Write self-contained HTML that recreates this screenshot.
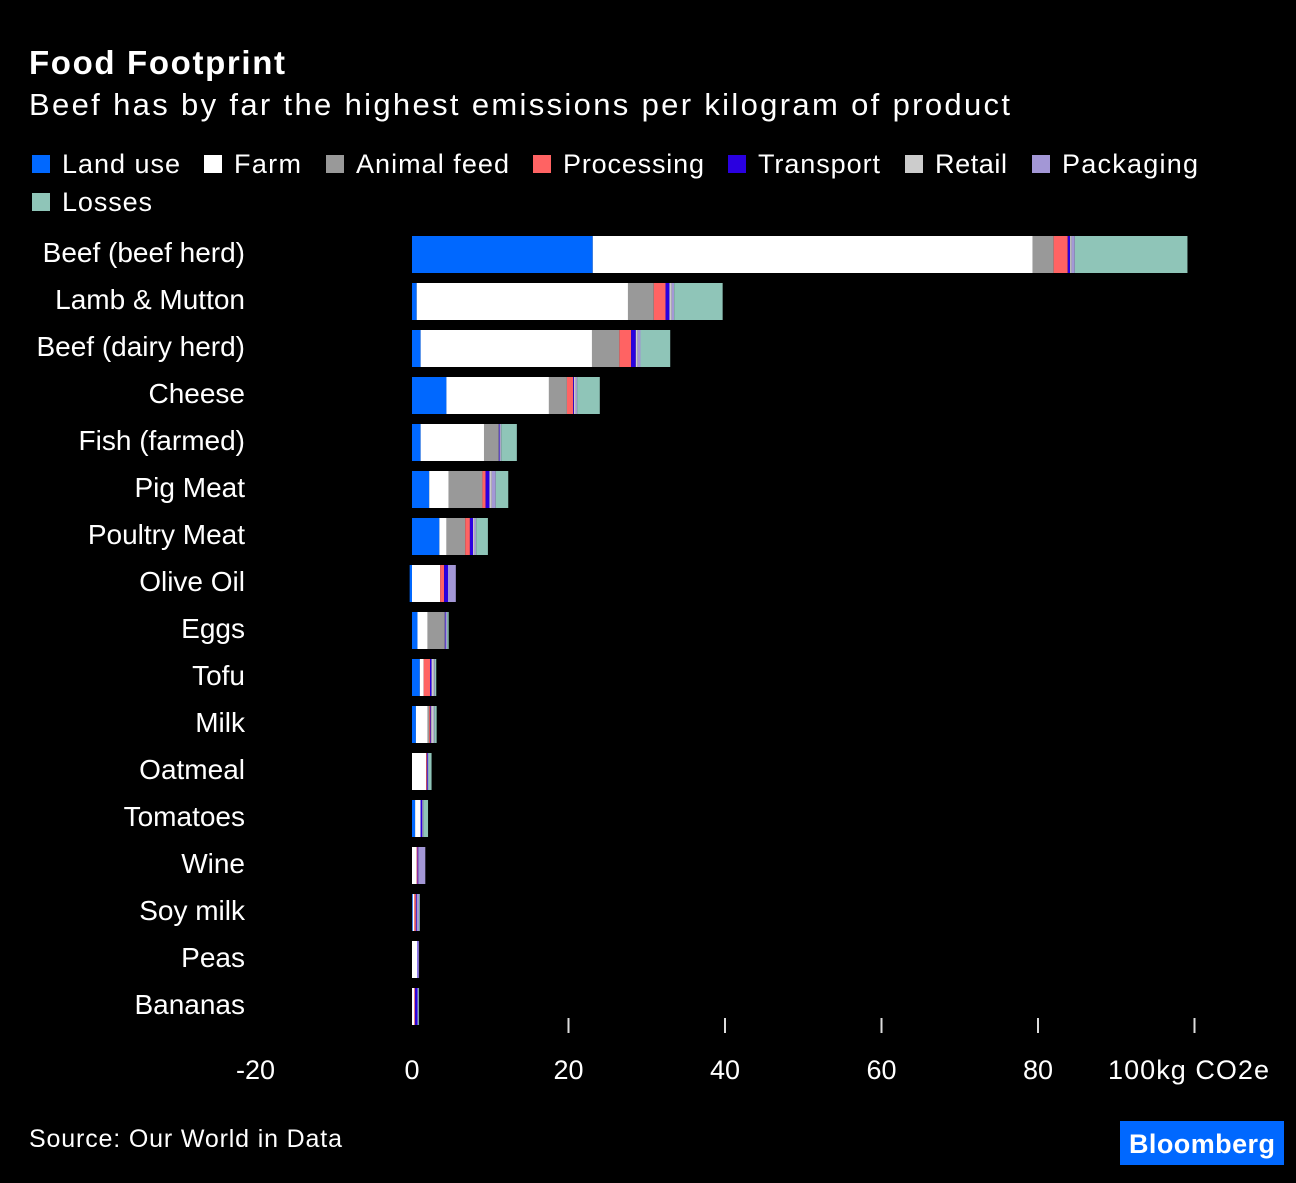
<!DOCTYPE html>
<html><head><meta charset="utf-8"><style>
body{margin:0;background:#000;width:1296px;height:1178px;overflow:hidden;font-family:"Liberation Sans",sans-serif;}
svg text{font-family:"Liberation Sans",sans-serif;fill:#fff;}
</style></head><body>
<svg id="chart" width="1296" height="1178">
<text x="29" y="74" font-size="33" font-weight="bold" textLength="256">Food Footprint</text>
<text x="29" y="115" font-size="31" textLength="981">Beef has by far the highest emissions per kilogram of product</text>
<g id="legend"></g>
<g id="bars"></g>
<g id="axis"></g>
<text x="29" y="1147" font-size="25" textLength="313">Source: Our World in Data</text>
<rect x="1120" y="1121" width="164" height="44" fill="#0068ff"/>
<text x="1202" y="1153" font-size="27" font-weight="bold" text-anchor="middle" textLength="146">Bloomberg</text>
</svg>
<script>
const categories=["Beef (beef herd)","Lamb & Mutton","Beef (dairy herd)","Cheese","Fish (farmed)","Pig Meat","Poultry Meat","Olive Oil","Eggs","Tofu","Milk","Oatmeal","Tomatoes","Wine","Soy milk","Peas","Bananas"];
const seriesNames=["Land use","Farm","Animal feed","Processing","Transport","Retail","Packaging","Losses"];
const landUse=[23.1,0.6,1.1,4.4,1.1,2.2,3.5,-0.3,0.7,1.0,0.5,0,0.4,0,0.1,0,0];
const farm=[56.2,27.0,21.9,13.1,8.1,2.5,0.9,3.6,1.3,0.5,1.5,1.8,0.7,0.6,0.2,0.7,0.3];
const animalFeed=[2.7,3.3,3.5,2.3,1.9,4.3,2.4,0,2.2,0,0.2,0,0,0,0,0,0];
const processing=[1.8,1.5,1.5,0.8,0,0.4,0.6,0.5,0,0.8,0.15,0.1,0,0.1,0.2,0,0.1];
const transport=[0.3,0.5,0.6,0.1,0.1,0.5,0.4,0.5,0.1,0.2,0.1,0.1,0.2,0.1,0.1,0.1,0.3];
const retail=[0.2,0.3,0.25,0.2,0.1,0.3,0.2,0,0.04,0.3,0.3,0,0,0,0,0,0];
const packaging=[0.4,0.3,0.35,0.2,0.1,0.5,0.2,1.0,0.15,0.1,0.1,0.1,0.15,0.9,0.3,0.04,0.1];
const losses=[14.4,6.2,3.8,2.9,2.0,1.6,1.5,0,0.2,0.2,0.3,0.4,0.6,0,0.1,0,0.1];
const tickValues=[-20,0,20,40,60,80,100];
const tickLabels=["-20","0","20","40","60","80","100kg CO2e"];
const colors=["#0068ff","#ffffff","#999999","#ff6363","#2a00e0","#cccccc","#a397d6","#8fc5b8"];
const series=[landUse,farm,animalFeed,processing,transport,retail,packaging,losses];
const NS="http://www.w3.org/2000/svg";
const x=v=>412+v*7.825;
const yTop=i=>236+i*47;
const barH=37;
function mk(tag,attrs,parent){const e=document.createElementNS(NS,tag);for(const k in attrs)e.setAttribute(k,attrs[k]);parent.appendChild(e);return e;}
const leg=document.getElementById('legend');
const legPos=[[32,164],[204,164],[326,164],[533,164],[728,164],[905,164],[1032,164],[32,202]];
const legW=[118,67,153,141,122,72,136,90];
seriesNames.forEach((n,i)=>{
  const r=mk('rect',{x:legPos[i][0],y:legPos[i][1]-9,width:18,height:18,fill:colors[i]},leg);
  
  
  const t=mk('text',{x:legPos[i][0]+30,y:legPos[i][1]+9,'font-size':27,textLength:legW[i]},leg);
  t.textContent=n;
  
  
});
const bars=document.getElementById('bars');
categories.forEach((c,i)=>{
  const t=mk('text',{x:245,y:yTop(i)+26,'font-size':28,'text-anchor':'end'},bars);
  t.textContent=c;
  
  
  let pos=0,neg=0;
  series.forEach((s,j)=>{
    const v=s[i];if(!v)return;
    let a,b;
    if(v>=0){a=pos;b=pos+v;pos=b;}else{b=neg;a=neg+v;neg=a;}
    const r=mk('rect',{x:x(a),y:yTop(i),width:Math.max(x(b)-x(a),0.8),height:barH,fill:colors[j]},bars);
    
    
  });
});
const ax=document.getElementById('axis');
tickValues.forEach((v,i)=>{
  if(v>0){const l=mk('line',{x1:x(v),x2:x(v),y1:1018,y2:1033,stroke:'#ddd','stroke-width':2},ax);
  
  }
  const attrs={x:v===100?x(v)-6:x(v),y:1079,'font-size':27,'text-anchor':'middle'};
  if(v===100)attrs.textLength=161;
  const t=mk('text',attrs,ax);
  t.textContent=tickLabels[i];
  
  
});
</script>
</body></html>
